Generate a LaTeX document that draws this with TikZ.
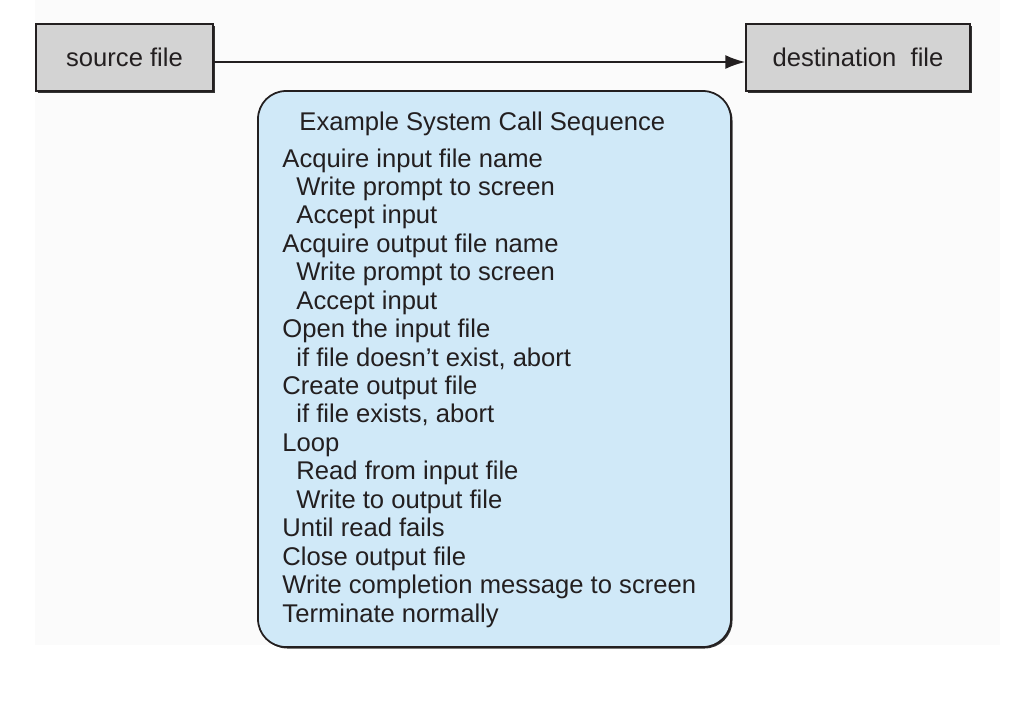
\documentclass[tikz,border=0pt]{standalone}
\usepackage{fontspec}
\setmainfont{Liberation Sans}
\usetikzlibrary{arrows.meta,positioning,shadows}
\definecolor{boxgray}{HTML}{D3D3D3}
\definecolor{seqblue}{HTML}{D0E9F8}
\definecolor{pagegray}{HTML}{FBFBFB}
\definecolor{inkgray}{HTML}{231F20}

\begin{document}
\begin{tikzpicture}[font=\fontsize{14.57}{16.18}\selectfont,text=inkgray,
  edgeshadow/.style={drop shadow={shadow xshift=0.03cm,shadow yshift=-0.03cm,opacity=1,fill=black!80}},
  filebox/.style={draw=inkgray,fill=boxgray,line width=0.8pt,minimum height=1.34cm,
    inner sep=0pt,edgeshadow},
  flow/.style={-{Latex[length=0.4cm,width=0.28cm]},line width=1.1pt,draw=inkgray}]
\useasboundingbox (0,0) rectangle (20.2,-14.16);
\fill[pagegray] (0.7,0) rectangle (20.0,-12.9);
\node[filebox,minimum width=3.54cm] (src) at (2.49,-1.15) {source file};
\node[filebox,minimum width=4.48cm] (dst) at (17.16,-1.15) {destination~~file};
\draw[flow] ([yshift=-0.09cm]src.east) -- ([yshift=-0.09cm]dst.west);
\node[draw=inkgray,fill=seqblue,line width=1pt,rounded corners=0.56cm,edgeshadow,
      minimum width=9.46cm,minimum height=11.12cm] (seq) at (9.89,-7.38) {};
\node[below right=0.42cm and 0.5cm of seq.north west,inner sep=0pt,align=left] (steps)
  {\hspace*{0.34cm}Example System Call Sequence\\[0.172cm]
   Acquire input file name\\
   \hspace*{0.28cm}Write prompt to screen\\
   \hspace*{0.28cm}Accept input\\
   Acquire output file name\\
   \hspace*{0.28cm}Write prompt to screen\\
   \hspace*{0.28cm}Accept input\\
   Open the input file\\
   \hspace*{0.28cm}if file doesn't exist, abort\\
   Create output file\\
   \hspace*{0.28cm}if file exists, abort\\
   Loop\\
   \hspace*{0.28cm}Read from input file\\
   \hspace*{0.28cm}Write to output file\\
   Until read fails\\
   Close output file\\
   Write completion message to screen\\
   Terminate normally};
\end{tikzpicture}
\end{document}
